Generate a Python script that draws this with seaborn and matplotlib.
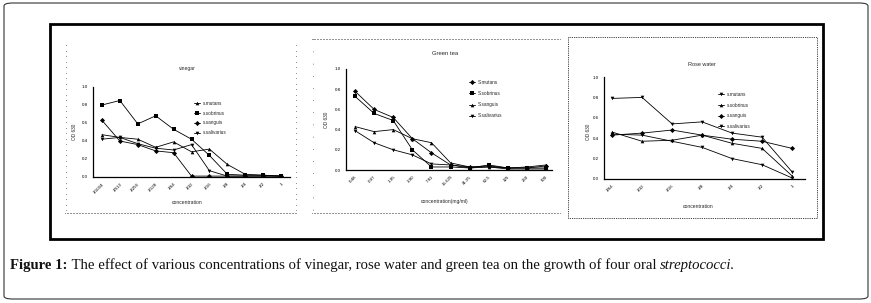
import matplotlib
matplotlib.use("Agg")
import matplotlib.pyplot as plt
import pandas as pd
import seaborn as sns
from matplotlib.lines import Line2D
from matplotlib.patches import FancyBboxPatch, Rectangle

W, H = 871, 303

# ---- data -------------------------------------------------------------
STRAINS_LOWER = ["s.mutans", "s.sobrinus", "s.sanguis", "s.salivarius"]
STRAINS_UPPER = ["S.mutans", "S.sobrinus", "S.sanguis", "S.salivarius"]

VINEGAR_TICKS = ["1/1024", "1/512", "1/256", "1/128", "1/64", "1/32",
                 "1/16", "1/8", "1/4", "1/2", "1"]
VINEGAR_MUTANS = [0.47, 0.44, 0.42, 0.33, 0.39, 0.28, 0.31, 0.14, 0.03, 0.02, 0.01]
VINEGAR_SOBRINUS = [0.80, 0.85, 0.59, 0.68, 0.53, 0.42, 0.24, 0.03, 0.02, 0.02, 0.01]
VINEGAR_SANGUIS = [0.63, 0.40, 0.36, 0.29, 0.27, 0.01, 0.01, 0.01, 0.01, 0.01, 0.01]
VINEGAR_SALIVARIUS = [0.42, 0.44, 0.37, 0.32, 0.30, 0.36, 0.07, 0.01, 0.01, 0.01, 0.01]

GREEN_TICKS = ["0.48", "0.97", "1.95", "3.90", "7.81", "15.625", "31.25",
               "62.5", "125", "250", "500"]
GREEN_MUTANS = [0.78, 0.60, 0.52, 0.31, 0.17, 0.05, 0.03, 0.04, 0.02, 0.02, 0.04]
GREEN_SOBRINUS = [0.73, 0.56, 0.49, 0.20, 0.03, 0.03, 0.02, 0.05, 0.02, 0.02, 0.02]
GREEN_SANGUIS = [0.43, 0.38, 0.40, 0.31, 0.27, 0.07, 0.03, 0.03, 0.02, 0.03, 0.05]
GREEN_SALIVARIUS = [0.39, 0.27, 0.20, 0.15, 0.06, 0.05, 0.02, 0.03, 0.01, 0.01, 0.01]

ROSE_TICKS = ["1/64", "1/32", "1/16", "1/8", "1/4", "1/2", "1"]
ROSE_MUTANS = [0.79, 0.80, 0.54, 0.56, 0.45, 0.41, 0.07]
ROSE_SOBRINUS = [0.46, 0.37, 0.38, 0.43, 0.35, 0.30, 0.03]
ROSE_SANGUIS = [0.43, 0.45, 0.48, 0.43, 0.39, 0.37, 0.30]
ROSE_SALIVARIUS = [0.44, 0.43, 0.37, 0.31, 0.20, 0.14, 0.01]

CAPTION_BOLD = "Figure 1:"
CAPTION_TEXT = (" The effect of various concentrations of vinegar, rose water and "
                "green tea on the growth of four oral ")
CAPTION_ITALIC = "streptococci."


def fx(x):
    return x / W


def fy(y):
    return 1 - y / H


def long_df(strains, series):
    rows = []
    for name, vals in zip(strains, series):
        for i, v in enumerate(vals):
            rows.append({"pos": i, "od": v, "strain": name})
    return pd.DataFrame(rows)


def panel(fig, box, strains, series, ticks, markers, xlim, leg_xy, leg_space):
    x0, ytop, x1, ybot = box
    ax = fig.add_axes([fx(x0), fy(ybot), fx(x1) - fx(x0), fy(ytop) - fy(ybot)])
    df = long_df(strains, series)
    sns.lineplot(data=df, x="pos", y="od", style="strain",
                 markers=dict(zip(strains, markers)), dashes=False,
                 color="black", linewidth=0.6, markersize=2.6,
                 markeredgewidth=0, ax=ax)
    leg = ax.get_legend()
    handles = leg.legend_handles
    labels = [t.get_text() for t in leg.get_texts()]
    leg.remove()
    ax.set_xlim(*xlim)
    ax.set_ylim(0, 1.0)
    ax.set_facecolor("none")
    ax.set_xticks(range(len(ticks)))
    ax.set_xticklabels(ticks, rotation=45, ha="right", rotation_mode="anchor")
    ax.set_yticks([0, 0.2, 0.4, 0.6, 0.8, 1.0])
    ax.set_yticklabels(["0.0", "0.2", "0.4", "0.6", "0.8", "1.0"])
    ax.tick_params(labelsize=3.2, length=2, width=0.6, pad=1.5, colors="black")
    for s in ("top", "right"):
        ax.spines[s].set_visible(False)
    for s in ("left", "bottom"):
        ax.spines[s].set_linewidth(0.9)
        ax.spines[s].set_color("black")
    ax.set_xlabel("")
    ax.set_ylabel("")
    ax.grid(False)
    fig.legend(handles, labels, loc="upper left",
               bbox_to_anchor=(fx(leg_xy[0]), fy(leg_xy[1])),
               frameon=False, fontsize=3.4, handlelength=1.3,
               handletextpad=0.6, labelspacing=leg_space, borderpad=0,
               borderaxespad=0)
    return ax


def dotted(fig, xs, ys, dash=(0.6, 1.2), lw=0.6):
    fig.add_artist(Line2D([fx(x) for x in xs], [fy(y) for y in ys],
                          transform=fig.transFigure, color="black", lw=lw,
                          linestyle=(0, dash)))


def main():
    sns.set_theme(style="white")
    plt.rcParams["font.family"] = ["Liberation Sans", "DejaVu Sans"]

    fig = plt.figure(figsize=(W / 100, H / 100), dpi=100)

    # outer rounded frame and inner black box
    fig.add_artist(FancyBboxPatch((fx(4), fy(299)), fx(864), 296 / H,
                                  boxstyle="round,pad=0,rounding_size=0.01",
                                  transform=fig.transFigure, fill=False,
                                  ec="#333333", lw=0.8))
    fig.add_artist(Rectangle((fx(50), fy(239)), fx(773), 215 / H,
                             transform=fig.transFigure, fill=False,
                             ec="black", lw=2.0))

    # dotted panel frames
    dotted(fig, [65, 297], [213, 213])
    dotted(fig, [66, 66], [45, 213], dash=(0.6, 6))
    dotted(fig, [296, 296], [45, 213], dash=(0.6, 6))
    dotted(fig, [312, 560], [39, 39])
    dotted(fig, [312, 560], [213, 213])
    dotted(fig, [313, 313], [39, 213], dash=(0.6, 14))
    dotted(fig, [568, 817, 817, 568, 568], [37, 37, 218, 218, 37], dash=(1.0, 1.2))

    # vinegar
    panel(fig, (93, 87, 290, 177), STRAINS_LOWER,
          [VINEGAR_MUTANS, VINEGAR_SOBRINUS, VINEGAR_SANGUIS, VINEGAR_SALIVARIUS],
          VINEGAR_TICKS, ["^", "s", "D", "v"], (-0.5, 10.5), (194, 101), 1.0)
    fig.text(fx(187), fy(68), "vinegar", fontsize=3.6, ha="center", va="center")
    fig.text(fx(187), fy(202), "concentration", fontsize=3.6, ha="center", va="center")
    fig.text(fx(74), fy(132), "OD 630", fontsize=3.4, rotation=90, ha="center", va="center")

    # green tea
    panel(fig, (346, 69, 552, 170), STRAINS_UPPER,
          [GREEN_MUTANS, GREEN_SOBRINUS, GREEN_SANGUIS, GREEN_SALIVARIUS],
          GREEN_TICKS, ["D", "s", "^", "v"], (-0.47, 10.3), (469, 80), 1.3)
    fig.text(fx(445), fy(54), "Green tea", fontsize=4.2, ha="center", va="center")
    fig.text(fx(445), fy(202), "concentration(mg/ml)", fontsize=3.6, ha="center", va="center")
    fig.text(fx(327), fy(120), "OD 630", fontsize=3.4, rotation=90, ha="center", va="center")

    # rose water
    panel(fig, (604, 77, 805, 179), STRAINS_LOWER,
          [ROSE_MUTANS, ROSE_SOBRINUS, ROSE_SANGUIS, ROSE_SALIVARIUS],
          ROSE_TICKS, ["v", "^", "D", "v"], (-0.27, 6.43), (718, 92), 1.2)
    fig.text(fx(702), fy(64), "Rose water", fontsize=4.0, ha="center", va="center")
    fig.text(fx(698), fy(207), "concentration", fontsize=3.6, ha="center", va="center")
    fig.text(fx(588), fy(132), "OD 630", fontsize=3.4, rotation=90, ha="center", va="center")

    # caption, three runs of text laid side by side
    cap_kw = dict(fontsize=10.6, family=["Liberation Serif", "DejaVu Serif"],
                  va="baseline", color="#111111")
    fig.canvas.draw()
    r = fig.canvas.get_renderer()
    x = 10
    t = fig.text(fx(x), fy(269), CAPTION_BOLD, weight="bold", **cap_kw)
    x += t.get_window_extent(r).width
    t = fig.text(fx(x), fy(269), CAPTION_TEXT, **cap_kw)
    x += t.get_window_extent(r).width
    fig.text(fx(x), fy(269), CAPTION_ITALIC, style="italic", **cap_kw)

    fig.savefig("out.png", dpi=100)


if __name__ == "__main__":
    main()
